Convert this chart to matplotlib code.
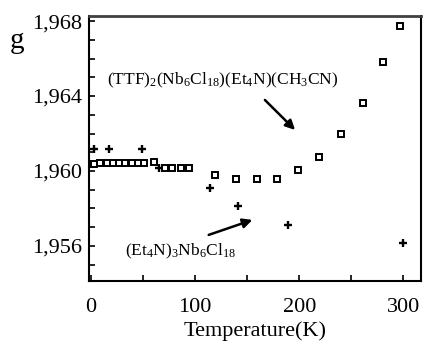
import matplotlib
matplotlib.use('agg')

import matplotlib.pyplot as plt
import matplotlib.ticker as ticker

# (TTF)2(Nb6Cl18)(Et4N)(CH3CN) -- open squares
T_ttf = [3, 9, 15, 21, 27, 33, 39, 45, 51, 60, 71, 78, 86, 94,
         119, 139, 159, 179, 199, 219, 240, 261, 280, 297]
g_ttf = [1.96035, 1.96043, 1.96043, 1.96043, 1.96043, 1.96043, 1.96043,
         1.96043, 1.96043, 1.96050, 1.96016, 1.96016, 1.96016, 1.96016,
         1.95980, 1.95957, 1.95957, 1.95957, 1.96005, 1.96075,
         1.96197, 1.96363, 1.96581, 1.96773]

# (Et4N)3Nb6Cl18 -- plus markers
T_et = [3, 17, 49, 65, 114, 141, 189, 300]
g_et = [1.96117, 1.96117, 1.96117, 1.96016, 1.95909, 1.95813, 1.95712, 1.95616]

y_major = [1.956, 1.960, 1.964, 1.968]
y_labels = ['1,956', '1,960', '1,964', '1,968']
x_major = [0, 100, 200, 300]

plt.rcParams['font.family'] = ['Liberation Serif', 'DejaVu Serif']
plt.rcParams['mathtext.fontset'] = 'custom'
plt.rcParams['mathtext.rm'] = 'Liberation Serif'
plt.rcParams['mathtext.it'] = 'Liberation Serif'


def main():
    fig = plt.figure(figsize=(4.23, 3.44), dpi=100)
    ax = fig.add_axes([0.2104, 0.1831, 0.7849, 0.7704])

    ax.plot(T_ttf, g_ttf, linestyle='', marker='s', markersize=4,
            markerfacecolor='white', markeredgecolor='black', markeredgewidth=1.4)
    ax.plot(T_et, g_et, linestyle='', marker='+', markersize=5.5,
            color='black', markeredgewidth=1.7)

    ax.set_xlim(-2, 317)
    ax.set_ylim(1.95413, 1.96827)

    ax.xaxis.set_major_locator(ticker.FixedLocator(x_major))
    ax.xaxis.set_minor_locator(ticker.MultipleLocator(50))
    ax.yaxis.set_major_locator(ticker.FixedLocator(y_major))
    ax.yaxis.set_minor_locator(ticker.MultipleLocator(0.001))
    ax.set_yticklabels(y_labels)

    ax.tick_params(which='both', direction='in', top=False, right=False,
                   width=1.2, labelsize=16)
    ax.tick_params(which='major', length=4)
    ax.tick_params(which='minor', length=4)
    ax.tick_params('x', pad=12)
    ax.tick_params('y', pad=5)

    for s in ax.spines.values():
        s.set_linewidth(1.5)
    ax.spines['top'].set_linewidth(2)
    ax.spines['top'].set_color('0.25')

    ax.set_xlabel('Temperature(K)', fontsize=16, labelpad=3)
    fig.text(0.04, 0.882, 'g', fontsize=21, ha='center', va='center')

    ax.text(15, 1.96485, r'(TTF)$_2$(Nb$_6$Cl$_{18}$)(Et$_4$N)(CH$_3$CN)',
            fontsize=12.5, ha='left', va='center')
    ax.annotate('', xy=(196, 1.96219), xytext=(167, 1.96379),
                arrowprops=dict(arrowstyle='-|>', lw=1.8, color='black',
                                mutation_scale=14, shrinkA=0, shrinkB=0))

    ax.text(33, 1.95573, r'(Et$_4$N)$_3$Nb$_6$Cl$_{18}$',
            fontsize=12.5, ha='left', va='center')
    ax.annotate('', xy=(155, 1.95739), xytext=(113, 1.95659),
                arrowprops=dict(arrowstyle='-|>', lw=1.8, color='black',
                                mutation_scale=14, shrinkA=0, shrinkB=0))

    fig.savefig('out.png', dpi=100)


if __name__ == "__main__":
    main()
